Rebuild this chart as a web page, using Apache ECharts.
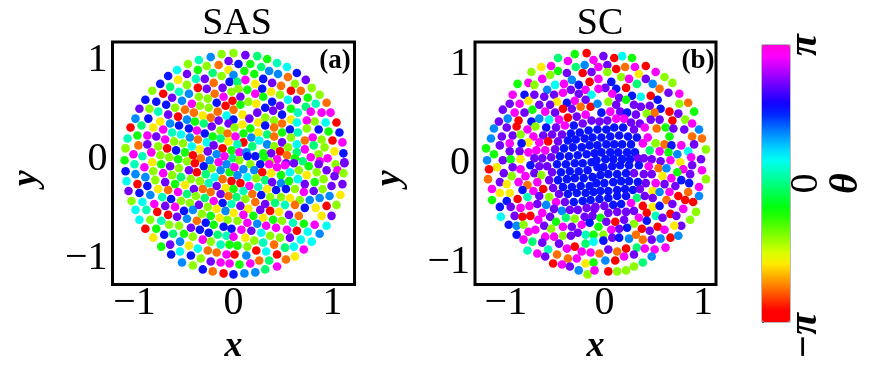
<!DOCTYPE html>
<html>
<head>
<meta charset="utf-8">
<title>SAS / SC</title>
<script src="https://cdn.jsdelivr.net/npm/echarts@6/dist/echarts.min.js"></script>
<style>
html, body { margin: 0; padding: 0; background: #fff; }
#chart { width: 872px; height: 368px; }
</style>
</head>
<body>
<div id="chart"></div>
<script>
const R = -2.95, O = -2.39, Y = -1.82, L = -1.22, G = -0.63, S = -0.06
const T = 0.25, C = 0.53, A = 1.13, B = 1.70, V = 2.26, M = 2.89

const tickValues = [-1, 0, 1]
const thetaTicks = [-Math.PI, 0, Math.PI]
const panelTitles = ['SAS', 'SC']
const panelTags = ['(a)', '(b)']

// x, y, theta
const sasPoints = [
  [-.23,1.07,A],[-.12,1.10,L],[0,1.11,L],[-.35,1.04,T],[-.46,1.00,L],[-.05,1.03,V],[-.27,.98,L],[-.15,.99,O],[-.36,.94,G],[-.57,.94,C],
  [-.05,.94,Y],[-.47,.90,V],[-.21,.91,S],[-.66,.88,B],[-.38,.85,T],[-.29,.85,V],[-.12,.88,L],[0,.89,A],[-.56,.84,Y],[-.20,.81,O],
  [-.04,.82,B],[-.74,.80,B],[-.47,.79,L],[-.64,.77,S],[-.36,.76,R],[-.27,.75,V],[-.11,.76,V],[-.02,.72,L],[-.82,.73,L],[-.55,.72,T],
  [-.71,.70,R],[-.45,.70,A],[-.19,.70,O],[-.35,.67,L],[-.89,.64,B],[-.62,.66,V],[-.78,.62,B],[-.52,.63,A],[-.26,.65,L],[-.10,.67,M],
  [-.01,.63,R],[-.17,.61,B],[-.68,.59,B],[-.42,.60,M],[-.95,.55,V],[-.85,.55,L],[-.59,.56,L],[-.34,.58,L],[-.25,.56,L],[-.08,.58,R],
  [-.76,.52,T],[-.49,.54,O],[0,.54,O],[-.16,.52,O],[-.40,.51,O],[-.66,.49,V],[-.31,.48,Y],[-.07,.48,C],[-.99,.45,A],[-.86,.45,B],
  [-.56,.47,R],[-.47,.44,A],[-.23,.46,O],[-.15,.43,V],[0,.44,B],[-.74,.42,Y],[-.39,.42,G],[-.05,.40,V],[-.64,.40,A],[-.30,.40,S],
  [-1.04,.36,R],[-.93,.38,S],[-.81,.36,Y],[-.55,.38,B],[-.22,.37,V],[-.45,.35,B],[-.71,.34,M],[-.37,.33,M],[-.13,.33,L],[-.62,.31,T],
  [-.29,.30,B],[-.06,.30,O],[-1.07,.25,T],[-.97,.28,G],[-.87,.28,M],[-.53,.29,C],[-.78,.27,V],[-.44,.26,A],[-.21,.27,G],[-.13,.25,S],
  [-.69,.24,M],[-.36,.24,O],[-.60,.22,L],[-.27,.21,C],[-.05,.22,Y],[-.96,.18,O],[-.87,.19,V],[-.51,.20,L],[-.42,.17,C],[-.20,.18,V],
  [-1.09,.15,L],[-.76,.17,L],[-.67,.15,R],[-.11,.15,R],[-.02,.13,G],[-.58,.13,B],[-.49,.11,G],[-.34,.14,Y],[-.26,.12,V],[-1.01,.09,M],
  [-.92,.07,T],[-.83,.11,M],[-.17,.09,A],[-.74,.08,L],[-.41,.08,R],[-.09,.07,M],[-.65,.06,L],[-.33,.05,O],[-.56,.04,G],[-1.10,.03,G],
  [-.24,.03,A],[-.47,.02,L],[-.01,.05,S],[-.82,.01,Y],[-1.0,-.01,T],[-.15,.01,M],[-.39,0,R],
  [-.90,-.04,M],[-.73,-.01,G],[-.64,-.03,V],[-.55,-.05,L],[-.30,-.03,B],[-.22,-.05,L],[-.07,-.01,A],[-1.09,-.08,B],[-.99,-.11,A],[-.89,-.14,A],
  [-.81,-.08,L],[-.71,-.10,M],[-.62,-.12,L],[-.53,-.14,S],[-.45,-.07,V],[-.37,-.09,R],[-.28,-.11,S],[-.19,-.14,C],[-.13,-.07,A],[-.04,-.09,G],
  [-1.08,-.18,C],[-.97,-.21,R],[-.87,-.23,B],[-.79,-.17,L],[-.69,-.19,V],[-.59,-.21,G],[-.43,-.16,L],[-.34,-.18,L],[-.25,-.20,T],[-.11,-.16,O],
  [-.02,-.18,R],[-.49,-.22,Y],[-.17,-.23,V],[-1.06,-.28,V],[-.95,-.30,B],[-.76,-.26,Y],[-.66,-.27,O],[-.56,-.29,M],[-.40,-.26,V],[-.31,-.26,O],
  [-.08,-.25,Y],[0,-.26,G],[-.84,-.32,A],[-.47,-.31,S],[-.38,-.33,L],[-.23,-.29,O],[-.13,-.31,V],[-.72,-.34,T],[-.29,-.35,S],[-.05,-.33,O],
  [-1.03,-.38,L],[-.92,-.39,C],[-.63,-.36,B],[-.53,-.38,L],[-.20,-.38,M],[-.80,-.41,M],[-.44,-.40,L],[-.11,-.40,B],[-.35,-.42,V],[-.02,-.41,T],
  [-.69,-.43,V],[-.59,-.44,M],[-.26,-.44,L],[-.99,-.47,C],[-.88,-.47,T],[-.77,-.49,R],[-.50,-.48,B],[-.41,-.47,A],[-.17,-.46,Y],[-.08,-.48,A],
  [-.66,-.52,R],[-.57,-.54,V],[-.32,-.51,L],[-.23,-.53,G],[0,-.50,Y],[-.47,-.56,A],[-.14,-.55,Y],[-.06,-.57,L],[-.95,-.57,C],[-.84,-.57,L],
  [-.73,-.58,T],[-.37,-.58,O],[-.65,-.62,L],[-.55,-.63,L],[-.28,-.60,B],[-.20,-.62,G],[-.10,-.64,B],[-.89,-.66,R],[-.78,-.66,G],[-.43,-.65,V],
  [-.34,-.67,B],[-.02,-.66,B],[-.70,-.72,B],[-.61,-.71,S],[-.50,-.71,G],[-.25,-.70,B],[-.16,-.72,S],[-.07,-.73,T],[-.81,-.75,Y],[-.41,-.74,L],
  [-.31,-.77,M],[0,-.74,M],[-.73,-.84,G],[-.64,-.82,V],[-.54,-.79,A],[-.23,-.79,L],[-.13,-.82,T],[-.04,-.82,G],[-.45,-.83,Y],[-.36,-.86,C],
  [-.26,-.88,O],[-.17,-.90,O],[-.07,-.92,M],[.01,-.92,R],[-.63,-.92,B],[-.54,-.89,C],[-.43,-.93,B],[-.33,-.96,L],[-.52,-1.0,A],[-.23,-.99,V],
  [-.13,-1.0,M],[-.04,-1.01,M],[-.41,-1.03,L],[-.31,-1.07,B],[-.21,-1.09,O],[-.10,-1.11,R],[0,-1.12,B],
  [.12,1.09,V],[.24,1.08,S],[.34,1.05,G],[.44,1.01,T],[.54,.97,C],[.05,1.00,B],[.17,1.00,G],[.28,.97,S],[.36,.93,A],[.45,.90,A],
  [.64,.91,B],[.55,.87,O],[.11,.93,G],[.21,.90,G],[.30,.85,B],[.39,.81,V],[.73,.84,V],[.62,.80,L],[.48,.78,O],[.04,.82,S],
  [.12,.84,M],[.22,.80,Y],[.79,.76,L],[.29,.75,B],[.58,.73,R],[.68,.73,O],[.38,.72,Y],[.47,.69,L],[.87,.69,L],[.05,.75,L],
  [.14,.74,G],[.22,.70,M],[.30,.67,G],[.75,.66,G],[.64,.64,V],[.55,.64,C],[.39,.62,B],[.94,.61,O],[.83,.60,T],[.07,.67,V],
  [.07,.59,G],[.15,.62,L],[.23,.60,Y],[.32,.56,B],[.47,.58,V],[.73,.57,S],[.58,.55,G],[.09,.49,Y],[.24,.51,V],[.40,.53,V],
  [.49,.49,B],[.65,.51,T],[.78,.52,M],[.89,.51,M],[.98,.51,M],[.32,.46,L],[.16,.45,V],[.09,.39,Y],[.25,.41,Y],[.41,.43,L],
  [.49,.40,O],[.58,.44,Y],[.64,.41,C],[.82,.42,L],[.93,.41,C],[1.04,.41,R],[.74,.43,M],[.01,.36,L],[.17,.35,G],[.32,.38,B],
  [.41,.36,O],[.57,.34,B],[.74,.35,L],[.86,.34,B],[.96,.32,G],[1.07,.31,B],[.10,.30,G],[.25,.31,Y],[.34,.29,S],[.49,.31,G],
  [.65,.31,T],[.02,.27,M],[.18,.26,A],[.41,.27,O],[.58,.26,L],[.80,.26,M],[.72,.23,O],[.89,.24,L],[1.00,.23,R],[1.10,.21,M],
  [.10,.21,R],[.26,.23,C],[.34,.19,A],[.49,.21,V],[.64,.19,C],[.81,.18,S],[.04,.19,T],[.19,.17,S],[.41,.17,L],[.55,.16,L],
  [.72,.14,M],[.92,.16,L],[1.02,.12,Y],[1.11,.10,B],[.06,.11,M],[.13,.11,A],[.30,.10,G],[.38,.10,V],[.47,.12,R],[.64,.11,S],
  [.86,.09,L],[.06,.03,L],[.22,.07,B],[.31,.06,G],[.44,.04,M],[.54,.08,O],[.62,.05,G],[.78,.06,M],[.70,.02,S],[.95,.05,M],
  [.87,.02,M],[1.12,.01,V],[.53,0,V],[.37,.01,L],[.14,.07,B],
  [.01,-.04,M],[.17,-.01,L],[.27,-.01,B],[.36,-.01,M],[.44,-.04,M],[.52,-.02,M],[.61,0,V],[.76,-.03,G],[.86,-.01,V],[1.03,-.01,L],
  [1.12,0,V],[.10,-.06,A],[.21,-.07,A],[.29,-.09,R],[.38,-.10,Y],[.48,-.12,G],[.57,-.09,C],[.66,-.07,L],[.74,-.12,Y],[.84,-.09,L],
  [.94,-.07,V],[1.05,-.07,M],[.04,-.12,A],[.14,-.14,C],[.23,-.15,L],[.32,-.17,S],[.39,-.19,V],[.48,-.20,A],[.56,-.18,G],[.65,-.16,C],
  [.72,-.21,V],[.82,-.19,G],[.91,-.16,L],[1.02,-.13,V],[1.11,-.10,L],[.07,-.20,R],[.16,-.23,M],[.25,-.24,T],[.34,-.26,Y],[.43,-.27,B],
  [.53,-.26,B],[.62,-.26,L],[.81,-.28,V],[.90,-.26,L],[.99,-.23,V],[1.10,-.21,V],[.10,-.28,T],[.19,-.31,O],[.28,-.32,B],[.37,-.34,L],
  [.48,-.34,L],[.57,-.35,Y],[.67,-.37,L],[.71,-.29,M],[.97,-.33,A],[1.08,-.32,Y],[.87,-.35,A],[.77,-.37,A],[.03,-.34,S],[.12,-.36,L],
  [.22,-.39,O],[.32,-.41,V],[.42,-.40,S],[.52,-.42,T],[.62,-.42,O],[.94,-.43,R],[1.04,-.42,L],[.07,-.43,V],[.15,-.46,Y],[.27,-.47,V],
  [.37,-.48,R],[.46,-.49,Y],[.56,-.52,V],[.66,-.53,O],[.72,-.45,B],[.83,-.45,Y],[.89,-.53,Y],[.99,-.53,V],[.10,-.52,M],[.20,-.53,G],
  [.30,-.55,Y],[.40,-.57,G],[.49,-.58,L],[.60,-.60,T],[.71,-.61,G],[.82,-.62,M],[.94,-.63,C],[.04,-.58,L],[.14,-.60,M],[.24,-.61,A],
  [.33,-.63,M],[.43,-.65,M],[.54,-.67,M],[.64,-.68,R],[.75,-.69,C],[.87,-.71,A],[.08,-.67,M],[.18,-.68,V],[.28,-.70,C],[.37,-.73,L],
  [.47,-.75,L],[.57,-.75,V],[.68,-.77,C],[.79,-.79,C],[.12,-.75,Y],[.21,-.78,L],[.30,-.80,T],[.41,-.82,O],[.52,-.85,S],[.61,-.84,C],
  [.71,-.87,M],[.04,-.83,G],[.14,-.84,L],[.23,-.88,R],[.33,-.89,C],[.44,-.92,R],[.62,-.94,Y],[.53,-.97,O],[.13,-.93,A],[.26,-.98,O],
  [.36,-.98,S],[.44,-1.04,M],[.06,-1.02,G],[.17,-1.01,M],[.32,-1.07,S],[.22,-1.10,A],[.11,-1.11,A]
]

const scPoints = [
  [-.21,1.10,G],[-.09,1.11,R],[-.38,1.06,S],[-.28,1.03,M],[-.02,1.04,M],[-.45,.98,M],[-.55,.97,Y],[-.20,.97,S],[-.11,.99,A],[-.65,.92,L],
  [-.38,.93,G],[-.29,.91,V],[-.13,.91,R],[-.04,.92,V],[-.54,.85,M],[-.46,.89,L],[-.24,.84,A],[-.68,.81,M],[-.79,.80,G],[-.62,.79,L],
  [-.41,.79,C],[-.32,.80,M],[-.17,.79,B],[-.06,.82,R],[-.49,.74,A],[-.25,.74,V],[-.10,.74,M],[-.84,.69,M],[-.72,.69,B],[-.62,.69,V],
  [-.42,.69,V],[-.33,.71,M],[-.17,.70,V],[-.04,.69,C],[-.52,.67,V],[-.87,.60,V],[-.77,.60,M],[-.68,.63,Y],[-.39,.62,Y],[-.29,.61,B],
  [-.21,.63,M],[-.10,.64,V],[-.57,.59,V],[-.46,.59,V],[-.15,.57,O],[-.05,.57,R],[-.94,.54,V],[-.64,.54,G],[-.33,.55,R],[-.24,.55,V],
  [-.82,.51,M],[-.72,.51,V],[-.51,.52,M],[-.41,.51,V],[-.10,.49,M],[-.19,.47,V],[-.28,.46,R],[-.89,.45,A],[-.57,.45,A],[-.47,.44,C],
  [-.37,.44,M],[-.98,.42,V],[-.78,.43,R],[-.65,.42,B],[-.04,.43,V],[-.80,.37,R],[-.90,.36,V],[-1.03,.35,A],[-.69,.34,M],[-.61,.37,L],
  [-.50,.36,B],[-.40,.36,V],[-.31,.38,M],[-.22,.38,B],[-.13,.40,V],[-.44,.29,V],[-.95,.27,V],[-.84,.28,V],[-.76,.29,L],[-.63,.27,M],
  [-.53,.28,V],[-.34,.29,V],[-.25,.30,B],[-.16,.31,B],[-.07,.33,B],[-1.06,.25,A],[-.68,.21,Y],[-.87,.20,M],[-.75,.20,B],[-.57,.21,M],
  [-.48,.22,R],[-.38,.22,V],[-.28,.23,B],[-.20,.24,B],[-.11,.25,B],[-.03,.26,B],[-1.11,.15,G],[-.97,.18,V],[-.60,.13,M],[-.51,.13,M],
  [-.41,.14,V],[-.32,.15,B],[-.23,.16,B],[-.14,.16,B],[-.06,.18,B],[-1.03,.09,G],[-.87,.12,V],[-.77,.12,V],[-.68,.11,M],[-.36,.07,B],
  [-.45,.06,V],[-.27,.07,B],[-.18,.08,B],[-.09,.09,B],[-.01,.10,B],[-1.10,.03,A],[-.94,.03,V],[-.86,.04,G],[-.76,.04,Y],[-.62,.05,V],
  [-.54,.05,V],
  [-1.0,-.04,Y],[-1.08,-.06,R],[-.93,-.10,V],[-.84,-.04,V],[-.76,-.06,M],[-.85,-.13,L],[-1.09,-.16,O],[-.66,-.02,B],[-.57,-.03,V],[-.49,-.03,V],
  [-.62,-.10,V],[-.55,-.12,L],[-.71,-.13,M],[-.97,-.19,V],[-.90,-.21,Y],[-.78,-.19,M],[-.69,-.22,O],[-.59,-.19,M],[-1.05,-.26,M],[-.97,-.30,Y],
  [-.87,-.30,Y],[-.74,-.27,B],[-.63,-.28,M],[-.53,-.26,R],[-.43,-.25,V],[-.57,-.33,V],[-1.05,-.37,G],[-.69,-.34,T],[-.47,-.34,L],[-.79,-.36,R],
  [-.90,-.38,B],[-.37,-.31,V],[-.40,-.39,M],[-.31,-.39,V],[-.86,-.44,V],[-.76,-.45,M],[-.67,-.43,M],[-.59,-.41,V],[-.50,-.42,A],[-.97,-.44,B],
  [-.42,-.46,V],[-.34,-.48,A],[-.26,-.47,V],[-.18,-.47,V],[-.09,-.45,V],[-.96,-.54,C],[-.82,-.53,V],[-.74,-.54,R],[-.66,-.53,R],[-.54,-.50,M],
  [-.46,-.54,V],[-.11,-.54,V],[-.03,-.53,V],[-.58,-.57,M],[-.40,-.59,G],[-.30,-.55,S],[-.21,-.56,L],[-.88,-.62,B],[-.80,-.63,A],[-.73,-.62,L],
  [-.52,-.63,V],[-.33,-.64,M],[-.24,-.64,V],[-.14,-.62,M],[-.06,-.60,B],[-.68,-.69,M],[-.61,-.67,M],[-.45,-.66,L],[-.18,-.70,V],[-.80,-.72,B],
  [-.73,-.77,M],[-.51,-.74,M],[-.42,-.74,M],[-.33,-.73,L],[-.25,-.73,V],[-.10,-.72,T],[-.02,-.72,G],[-.64,-.79,S],[-.54,-.80,V],[-.37,-.81,V],
  [-.10,-.81,S],[-.02,-.79,C],[-.69,-.88,T],[-.59,-.91,M],[-.48,-.87,T],[-.29,-.86,M],[-.21,-.84,R],[-.14,-.89,M],[-.05,-.90,M],[-.39,-.92,O],
  [-.51,-.94,V],[-.28,-.96,O],[-.19,-.96,M],[-.43,-1.01,R],[-.34,-1.02,M],[-.26,-1.04,V],[-.10,-1.01,Y],[-.02,-1.0,G],[-.17,-1.08,A],[-.08,-1.12,L],
  [-.01,-1.08,M],
  [-.39,-.01,B],[-.30,-.01,B],[-.21,0,B],[-.13,0,B],[-.04,.01,B],[-.44,-.09,V],[-.35,-.09,B],[-.26,-.08,B],[-.17,-.08,B],[-.08,-.07,B],
  [-.47,-.17,V],[-.38,-.17,B],[-.29,-.16,B],[-.21,-.15,B],[-.12,-.15,B],[-.03,-.14,B],[-.33,-.24,B],[-.24,-.24,B],[-.15,-.23,B],[-.06,-.23,B],
  [-.28,-.31,B],[-.19,-.30,B],[-.10,-.30,B],[-.02,-.29,B],[-.22,-.39,B],[-.13,-.38,B],[-.05,-.37,B],[-.01,-.46,V],
  [.08,1.08,V],[.19,1.06,R],[.27,1.08,C],[.37,1.06,G],[.03,.97,M],[.12,.99,V],[.21,.95,R],[.30,.97,O],[.40,.97,M],[.51,.98,R],
  [.12,.92,L],[.26,.87,L],[.34,.85,M],[.44,.90,Y],[.61,.92,M],[.70,.87,L],[.03,.85,M],[.16,.82,B],[.51,.85,V],[.78,.81,L],
  [.42,.80,S],[.58,.80,A],[.10,.76,V],[.21,.75,B],[.31,.76,R],[.65,.75,O],[.74,.71,V],[.85,.70,M],[.03,.75,M],[.17,.70,M],
  [.37,.68,B],[.46,.67,C],[.56,.68,R],[.24,.66,V],[.63,.64,B],[.02,.60,A],[.13,.62,L],[.31,.64,G],[.39,.59,V],[.21,.59,V],
  [.85,.60,L],[.94,.61,O],[.46,.57,V],[.55,.58,V],[.66,.55,B],[.60,.51,O],[.75,.52,R],[.84,.50,V],[1.0,.52,G],[.52,.50,L],
  [.06,.51,B],[.15,.52,M],[.25,.52,V],[.32,.51,B],[.41,.49,V],[.04,.42,V],[.12,.43,V],[.21,.45,M],[.29,.45,M],[.36,.41,V],
  [.45,.40,V],[.56,.44,V],[.65,.44,V],[.78,.43,R],[.91,.44,L],[.98,.40,M],[.02,.34,B],[.11,.34,B],[.19,.36,B],[.28,.36,B],
  [.39,.34,V],[.50,.36,M],[.62,.35,O],[.71,.36,G],[.79,.35,V],[.90,.34,V],[1.05,.34,A],[.06,.26,B],[.15,.27,B],[.24,.28,B],
  [.33,.27,B],[.42,.26,B],[.53,.26,M],[.75,.27,G],[.98,.27,O],[1.08,.25,O],[.02,.18,B],[.11,.19,B],[.19,.19,B],[.27,.19,B],
  [.36,.19,B],[.48,.20,M],[.61,.20,L],[.70,.19,O],[.77,.18,B],[.87,.18,M],[1.0,.19,V],[.06,.11,B],[.15,.11,B],[.23,.11,B],
  [.32,.11,B],[.40,.11,B],[.55,.13,S],[.65,.12,M],[.74,.11,G],[.83,.09,A],[.94,.12,C],[1.12,.14,L],[.97,.06,M],[.01,.03,B],
  [.10,.04,B],[.18,.04,B],[.27,.04,B],[.35,.04,B],[.43,.05,V],[.49,.05,V],[.57,.04,V],[.66,.02,V],[.76,.03,M],[.86,.01,Y],
  [1.07,.04,V],
  [.02,-.04,B],[.08,-.04,B],[.17,-.03,B],[.25,-.02,B],[.34,-.02,B],[.44,-.02,B],[.54,-.03,M],[.64,-.05,O],[.72,-.05,A],[.89,-.06,M],
  [.98,-.02,V],[1.08,-.07,M],[.05,-.12,B],[.13,-.11,B],[.22,-.11,B],[.31,-.10,B],[.39,-.10,V],[.49,-.11,V],[.57,-.11,V],[.68,-.13,Y],
  [.77,-.15,M],[.83,-.09,G],[.96,-.11,V],[1.12,-.16,L],[.01,-.20,B],[.09,-.20,B],[.18,-.19,B],[.26,-.18,B],[.34,-.18,B],[.43,-.19,B],
  [.51,-.20,V],[.61,-.20,M],[.70,-.21,V],[.81,-.23,V],[.87,-.17,B],[.95,-.20,B],[1.05,-.24,M],[.05,-.28,B],[.13,-.28,B],[.22,-.27,B],
  [.30,-.26,B],[.38,-.27,B],[.45,-.26,V],[.58,-.28,Y],[.65,-.29,A],[.75,-.29,M],[.94,-.29,O],[.84,-.33,R],[1.05,-.33,A],[.13,-.35,B],
  [.22,-.33,B],[.31,-.33,B],[.42,-.35,S],[.50,-.33,V],[.58,-.35,V],[.72,-.37,O],[.91,-.37,R],[.99,-.39,R],[.78,-.41,V],[.04,-.36,B],
  [0,-.44,V],[.09,-.43,V],[.18,-.42,B],[.26,-.41,B],[.36,-.40,M],[.48,-.43,R],[.58,-.44,Y],[.65,-.43,B],[.89,-.46,M],[.22,-.49,V],
  [.13,-.50,V],[.31,-.49,V],[.39,-.48,V],[.44,-.55,M],[.52,-.50,R],[.61,-.53,T],[.76,-.51,R],[.68,-.55,V],[.82,-.53,V],[1.02,-.49,L],
  [.96,-.57,L],[.05,-.55,G],[.11,-.59,V],[.20,-.59,R],[.29,-.57,V],[.39,-.61,L],[.52,-.58,B],[.03,-.64,G],[.87,-.63,V],[.80,-.63,Y],
  [.63,-.64,R],[.47,-.66,R],[.55,-.68,V],[.70,-.67,M],[.24,-.66,V],[.32,-.65,B],[.16,-.67,M],[.08,-.72,L],[.17,-.75,V],[.24,-.75,B],
  [.34,-.76,A],[.41,-.72,O],[.48,-.77,O],[.57,-.77,V],[.66,-.76,A],[.76,-.75,R],[.84,-.73,A],[.08,-.78,B],[.13,-.87,V],[.22,-.89,O],
  [.31,-.86,R],[.42,-.85,S],[.50,-.86,M],[.60,-.87,M],[.71,-.85,M],[.04,-.91,O],[.10,-.98,A],[.20,-.98,R],[.29,-.94,M],[.39,-.92,V],
  [.57,-.94,A],[.48,-1.0,S],[.13,-1.09,R],[.22,-1.09,L],[.31,-1.08,L],[.39,-1.04,L]
]

// evenly spaced colour stops of the bar, red at -pi up to pink at +pi
const barColors = [
  '#ff0000', '#ff0200', '#ff3c00', '#ff7700', '#ffaf00', '#ffea00', '#d9ff00', '#9eff00', '#66ff00',
  '#2bff00', '#00ff0e', '#00ff48', '#00ff80', '#00ffbb', '#00fff2', '#00d4ff', '#009dff', '#0062ff',
  '#0026ff', '#1500ff', '#4d00ff', '#8800ff', '#c400ff', '#fb00ff', '#ff00dd'
]

const serif = '"Liberation Serif", serif'
const range = 1.222

function formatTick(v) {
  return v < 0 ? '\u2212' + Math.abs(v) : String(v)
}

function valueAxis(index, isX, labelPadding, labelAlign) {
  return {
    type: 'value',
    gridIndex: index,
    min: -range,
    max: range,
    name: isX ? 'x' : 'y',
    nameLocation: 'middle',
    nameGap: isX ? 42 : (index === 0 ? 68 : 67),
    nameTextStyle: {
      fontFamily: serif, fontSize: 36, fontWeight: 'bold', fontStyle: 'italic', color: '#000',
      padding: isX ? 0 : [0, 30, 0, 0]
    },
    splitLine: { show: false },
    axisLine: { show: false },
    axisTick: { show: true, customValues: tickValues, length: 2, lineStyle: { color: '#555', width: 1 } },
    axisLabel: {
      customValues: tickValues,
      formatter: formatTick,
      margin: isX ? -1 : 5,
      padding: labelPadding,
      verticalAlign: labelAlign,
      fontFamily: serif,
      fontSize: 40,
      color: '#000'
    }
  }
}

function dots(index, points) {
  return {
    type: 'scatter',
    xAxisIndex: index,
    yAxisIndex: index,
    data: points,
    symbolSize: 8.6,
    itemStyle: { opacity: 1 },
    silent: true,
    animation: false
  }
}

const option = {
  animation: false,
  backgroundColor: '#fff',
  title: [
    { text: panelTitles[0], left: 232, top: 0, textAlign: 'center', textStyle: { fontFamily: serif, fontSize: 38, fontWeight: 'normal', color: '#000' } },
    { text: panelTitles[1], left: 595, top: 0, textAlign: 'center', textStyle: { fontFamily: serif, fontSize: 38, fontWeight: 'normal', color: '#000' } },
    { text: panelTags[0], left: 330, top: 43, textAlign: 'center', textStyle: { fontFamily: serif, fontSize: 27, fontWeight: 'bold', color: '#000' } },
    { text: panelTags[1], left: 693, top: 43, textAlign: 'center', textStyle: { fontFamily: serif, fontSize: 27, fontWeight: 'bold', color: '#000' } }
  ],
  grid: [
    { left: 112.5, top: 42, width: 242, height: 242.5, show: true, borderColor: '#000', borderWidth: 3, outerBoundsMode: 'none' },
    { left: 475, top: 42, width: 241, height: 242.5, show: true, borderColor: '#000', borderWidth: 3, outerBoundsMode: 'none' },
    { left: 762, top: 45, width: 28, height: 277, show: true, borderColor: '#777', borderWidth: 1, outerBoundsMode: 'none' }
  ],
  xAxis: [
    valueAxis(0, true, 0),
    valueAxis(1, true, [0, 0, 0, 18]),
    { type: 'value', gridIndex: 2, show: false, min: 0, max: 1 }
  ],
  yAxis: [
    valueAxis(0, false, [0, 0, -16, 0], 'bottom'),
    valueAxis(1, false, 0),
    {
      type: 'value',
      gridIndex: 2,
      position: 'right',
      min: -Math.PI,
      max: Math.PI,
      name: '\u03b8',
      nameLocation: 'middle',
      nameRotate: 90,
      nameGap: 35,
      nameTextStyle: { fontFamily: serif, fontSize: 40, fontWeight: 'bold', fontStyle: 'italic', color: '#000' },
      splitLine: { show: false },
      axisLine: { show: false },
      axisTick: { show: true, customValues: thetaTicks, length: 2, lineStyle: { color: '#555', width: 1 } },
      axisLabel: {
        customValues: thetaTicks,
        rotate: 90,
        margin: -4,
        fontFamily: serif,
        fontSize: 40,
        color: '#000',
        formatter: function (v) {
          if (v < -1) return '{neg|\u2212\u03c0}'
          if (v > 1) return '{pos|\u03c0}'
          return '{zero|0}'
        },
        rich: {
          neg: { fontFamily: serif, fontSize: 40, fontWeight: 'bold', fontStyle: 'italic', padding: [0, 28, 0, 0] },
          pos: { fontFamily: serif, fontSize: 40, fontWeight: 'bold', fontStyle: 'italic' },
          zero: { fontFamily: serif, fontSize: 40 }
        }
      }
    }
  ],
  visualMap: {
    type: 'continuous',
    seriesIndex: [0, 1],
    dimension: 2,
    min: -Math.PI,
    max: Math.PI,
    calculable: false,
    hoverLink: false,
    showLabel: false,
    left: 762,
    top: 45,
    padding: 0,
    itemWidth: 28,
    itemHeight: 277,
    inRange: { color: barColors }
  },
  series: [
    dots(0, sasPoints),
    dots(1, scPoints),
    { type: 'scatter', xAxisIndex: 2, yAxisIndex: 2, data: [], silent: true }
  ]
}

const myChart = echarts.init(document.getElementById('chart'), null, { renderer: 'canvas' })
myChart.setOption(option)
</script>
</body>
</html>
